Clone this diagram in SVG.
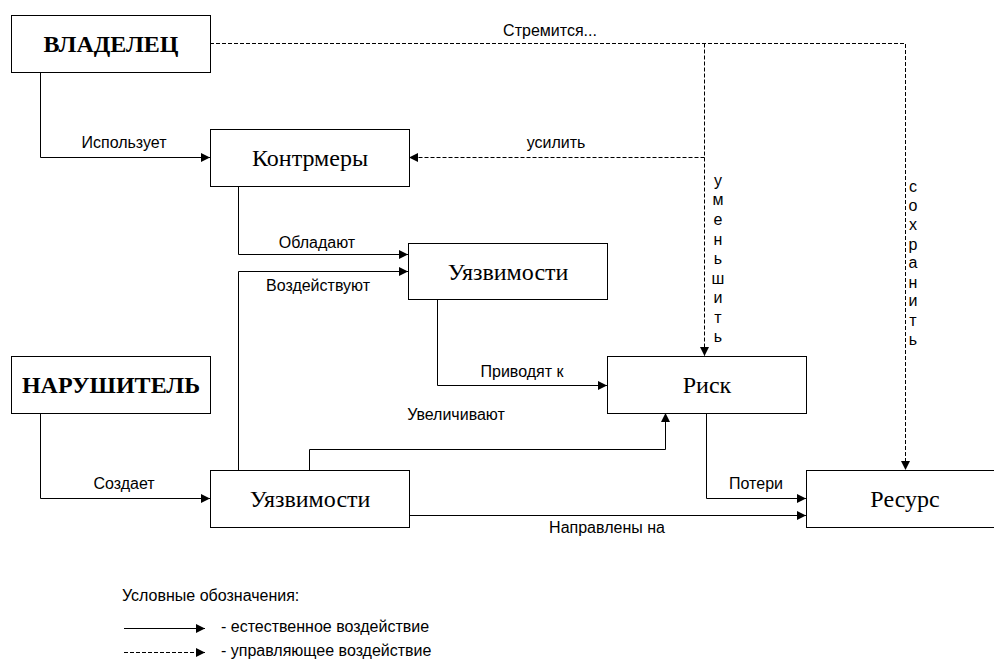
<svg xmlns="http://www.w3.org/2000/svg" width="994" height="661" viewBox="0 0 994 661">
<defs>
<marker id="arr" viewBox="0 0 10 10" refX="10" refY="5" markerWidth="10" markerHeight="9" markerUnits="userSpaceOnUse" orient="auto">
<path d="M0,0 L10,5 L0,10 z" fill="#000"/>
</marker>
</defs>
<style>
.box{fill:#fff;stroke:#000;stroke-width:1}
.t{font-family:"Liberation Serif","Times New Roman",serif;font-size:24px;text-anchor:middle;fill:#000}
.tb{font-family:"Liberation Serif","Times New Roman",serif;font-size:24px;font-weight:bold;text-anchor:middle;fill:#000}
.l{font-family:"Liberation Sans",Arial,sans-serif;font-size:16px;text-anchor:middle;fill:#000}
.ls{font-family:"Liberation Sans",Arial,sans-serif;font-size:16px;fill:#000}
.c{fill:none;stroke:#000;stroke-width:1}
.d{fill:none;stroke:#000;stroke-width:1;stroke-dasharray:4,2}
</style>
<rect width="994" height="661" fill="#fff"/>
<g id="connectors">
<path class="c" d="M40.5 72 V157.5 H210" marker-end="url(#arr)"/>
<path class="d" d="M210 43.5 H905.5 V470" marker-end="url(#arr)"/>
<path class="d" d="M704.5 43.5 V356" marker-end="url(#arr)"/>
<path class="d" d="M704.5 157.5 H409" marker-end="url(#arr)"/>
<path class="c" d="M238.5 186 V254.5 H408" marker-end="url(#arr)"/>
<path class="c" d="M238.5 470 V271.5 H408" marker-end="url(#arr)"/>
<path class="c" d="M437.5 300 V385.5 H607" marker-end="url(#arr)"/>
<path class="c" d="M309.5 470 V449.5 H665.5 V413" marker-end="url(#arr)"/>
<path class="c" d="M706.5 413 V498.5 H806" marker-end="url(#arr)"/>
<path class="c" d="M408 515.5 H806" marker-end="url(#arr)"/>
<path class="c" d="M40.5 413 V498.5 H210" marker-end="url(#arr)"/>
<text class="l" x="550" y="36">Стремится...</text>
<text class="l" x="556" y="148">усилить</text>
<text class="l" x="124" y="148">Использует</text>
<text class="l" x="317" y="248">Обладают</text>
<text class="l" x="318" y="291">Воздействуют</text>
<text class="l" x="522" y="377">Приводят к</text>
<text class="l" x="456" y="420">Увеличивают</text>
<text class="l" x="756" y="489">Потери</text>
<text class="l" x="607" y="533">Направлены на</text>
<text class="l" x="124" y="489">Создает</text>
<g class="l">
<text x="718" y="186">у</text><text x="718" y="205">м</text><text x="718" y="225">е</text><text x="718" y="245">н</text><text x="718" y="264">ь</text><text x="718" y="284">ш</text><text x="718" y="303">и</text><text x="718" y="323">т</text><text x="718" y="342">ь</text>
</g>
<g class="l">
<text x="913" y="192">с</text><text x="913" y="211">о</text><text x="913" y="230">х</text><text x="913" y="250">р</text><text x="913" y="268">а</text><text x="913" y="288">н</text><text x="913" y="306">и</text><text x="913" y="326">т</text><text x="913" y="345">ь</text>
</g>
</g>
<g id="owner"><rect class="box" x="11.5" y="15.5" width="199" height="57"/><text class="tb" x="111" y="52">ВЛАДЕЛЕЦ</text></g>
<g id="countermeasures"><rect class="box" x="210.5" y="129.5" width="199" height="57"/><text class="t" x="310" y="166">Контрмеры</text></g>
<g id="vuln1"><rect class="box" x="408.5" y="243.5" width="199" height="56"/><text class="t" x="508" y="280">Уязвимости</text></g>
<g id="intruder"><rect class="box" x="11.5" y="356.5" width="199" height="57"/><text class="tb" x="111" y="393">НАРУШИТЕЛЬ</text></g>
<g id="risk"><rect class="box" x="607.5" y="356.5" width="199" height="57"/><text class="t" x="707" y="393">Риск</text></g>
<g id="vuln2"><rect class="box" x="210.5" y="470.5" width="199" height="57"/><text class="t" x="310" y="507">Уязвимости</text></g>
<g id="resource"><rect class="box" x="806.5" y="470.5" width="199" height="57"/><text class="t" x="905" y="507">Ресурс</text></g>
<g id="legend">
<text class="ls" x="122" y="601">Условные обозначения:</text>
<path class="c" d="M124 628.5 H205" marker-end="url(#arr)"/>
<text class="ls" x="221" y="632">- естественное воздействие</text>
<path class="d" d="M124 652.5 H205" marker-end="url(#arr)"/>
<text class="ls" x="221" y="656">- управляющее воздействие</text>
</g>
</svg>
